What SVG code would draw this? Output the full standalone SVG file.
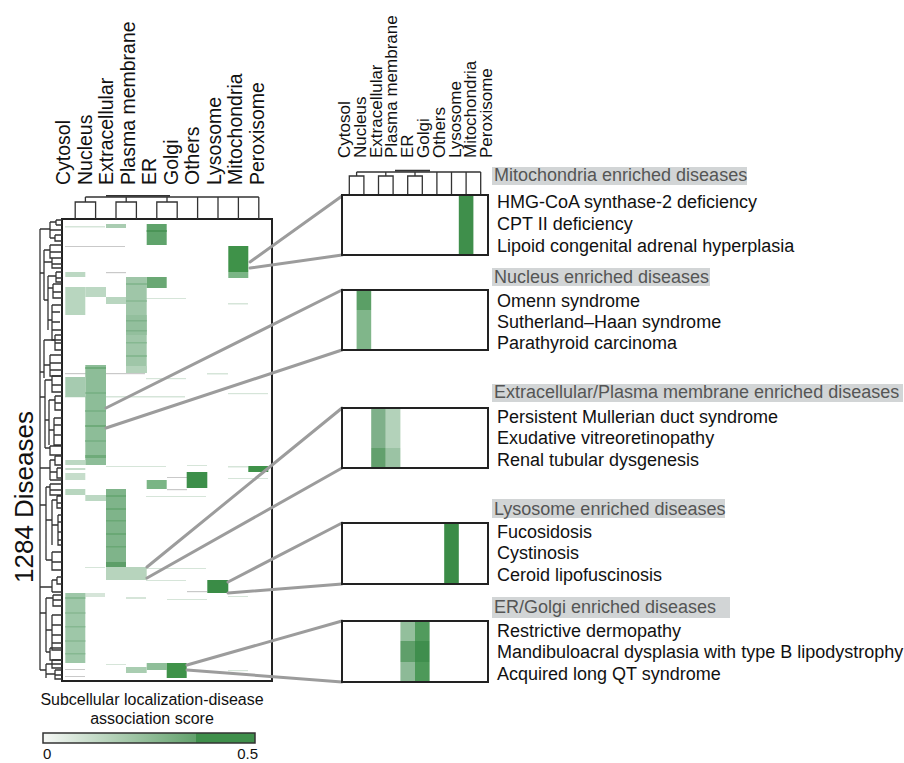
<svg xmlns="http://www.w3.org/2000/svg" width="904" height="763" viewBox="0 0 904 763">
<style>
text{font-family:"Liberation Sans",Arial,Helvetica,sans-serif;}
.cl{font-size:19.5px;fill:#111}
.cr{font-size:17px;fill:#111}
.hd{font-size:18px;fill:#555}
.dz{font-size:18px;fill:#111}
.hb{fill:#d2d5d6}
.box{fill:none;stroke:#222;stroke-width:2}
.den{fill:none;stroke:#333;stroke-width:1.3}
.con{stroke:#9c9c9c;stroke-width:3;fill:none;stroke-linecap:round}
.tl{fill:#d6e5d9}
.tg{fill:#c9c9c9}
</style>
<defs>
<linearGradient id="cbar" x1="0" y1="0" x2="1" y2="0">
<stop offset="0" stop-color="#f6f8f6"/>
<stop offset="0.72" stop-color="#63a26d"/>
<stop offset="0.72" stop-color="#3f8f4b"/>
<stop offset="1" stop-color="#3f8f4b"/>
</linearGradient>
</defs>
<rect width="904" height="763" fill="#fff"/>

<!-- Left heatmap -->
<g id="heatmap">
<rect x="62" y="219" width="210" height="462" fill="#fff"/>
<rect class="tl" x="65" y="226" width="40" height="1.5"/>
<rect class="tg" x="65" y="246" width="60" height="1"/>
<rect class="tg" x="106" y="272" width="20" height="1.2"/>
<rect class="tl" x="228" y="303" width="20" height="1.5"/>
<rect class="tl" x="146" y="298" width="40" height="1"/>
<rect class="tg" x="65" y="373" width="80" height="1.2"/>
<rect class="tl" x="207" y="373" width="21" height="1.5"/>
<rect class="tl" x="146" y="378" width="40" height="1.2"/>
<rect class="tl" x="65" y="396" width="120" height="1.5"/>
<rect class="tl" x="228" y="393" width="40" height="1.2"/>
<rect class="tl" x="106" y="466" width="60" height="1"/>
<rect class="tl" x="187" y="465" width="20" height="1"/>
<rect class="tl" x="228" y="466" width="20" height="1.5"/>
<rect class="tg" x="167" y="477" width="20" height="1"/>
<rect class="tg" x="167" y="489" width="20" height="1.2"/>
<rect class="tl" x="228" y="478" width="40" height="1"/>
<rect class="tl" x="146" y="496" width="60" height="1"/>
<rect class="tl" x="85" y="567" width="20" height="1"/>
<rect class="tl" x="146" y="568" width="60" height="1"/>
<rect class="tl" x="146" y="580" width="40" height="1"/>
<rect class="tg" x="187" y="591" width="20" height="1.2"/>
<rect class="tl" x="85" y="593" width="20" height="4"/>
<rect class="tl" x="126" y="597" width="20" height="2"/>
<rect class="tl" x="167" y="599" width="40" height="1"/>
<rect class="tl" x="228" y="596" width="20" height="1"/>
<rect class="tl" x="106" y="664" width="20" height="1"/>
<rect class="tl" x="228" y="670" width="20" height="1.2"/>
<rect class="tg" x="65" y="669" width="20" height="1"/>
<rect class="tg" x="65" y="676" width="20" height="1"/>
<rect x="106" y="224" width="20" height="4" fill="#a9ccb1"/>
<rect x="146.7" y="224" width="20" height="21" fill="#5fa36b"/>
<rect x="146.7" y="230" width="20" height="2" fill="#4b9457"/>
<rect x="228.3" y="246" width="20" height="26" fill="#3f9249"/>
<rect x="228.3" y="272" width="20" height="6" fill="#7ab585"/>
<rect x="65.3" y="272" width="20" height="5" fill="#bcd8c3"/>
<rect x="126" y="277" width="20.7" height="96" fill="#9fc6a8"/>
<rect x="126" y="283" width="20.7" height="2" fill="#86b891"/>
<rect x="126" y="300" width="20.7" height="2" fill="#8dbb97"/>
<rect x="126" y="315" width="20.7" height="20" fill="#93bf9d"/>
<rect x="126" y="320" width="20.7" height="1.5" fill="#7fb18a"/>
<rect x="126" y="330" width="20.7" height="1.5" fill="#7fb18a"/>
<rect x="126" y="342" width="20.7" height="1.5" fill="#86b891"/>
<rect x="126" y="355" width="20.7" height="2" fill="#86b891"/>
<rect x="126" y="366" width="20.7" height="7" fill="#b3d2ba"/>
<rect x="146.7" y="277" width="20" height="11" fill="#6aa874"/>
<rect x="65.3" y="287" width="20" height="28" fill="#b8d6bf"/>
<rect x="85.3" y="287" width="20.7" height="10" fill="#bcd8c3"/>
<rect x="106" y="297" width="20" height="7" fill="#b9d6c0"/>
<rect x="85.3" y="365" width="20.7" height="100" fill="#8dbd98"/>
<rect x="85.3" y="367" width="20.7" height="2" fill="#6fab7a"/>
<rect x="85.3" y="392" width="20.7" height="2" fill="#7bb287"/>
<rect x="85.3" y="410" width="20.7" height="2" fill="#7bb287"/>
<rect x="85.3" y="425" width="20.7" height="2" fill="#6fab7a"/>
<rect x="85.3" y="440" width="20.7" height="2" fill="#7bb287"/>
<rect x="85.3" y="455" width="20.7" height="3" fill="#6fab7a"/>
<rect x="65.3" y="377" width="20" height="20" fill="#a6cbb0"/>
<rect x="65.3" y="460" width="20" height="5" fill="#bcd8c3"/>
<rect x="248.3" y="466" width="20" height="6" fill="#3f9249"/>
<rect x="65.3" y="468" width="20" height="2" fill="#c6ddcb"/>
<rect x="65.3" y="473" width="20" height="7" fill="#c6ddcb"/>
<rect x="186.7" y="472" width="20.6" height="16" fill="#3d8f4a"/>
<rect x="146.7" y="480" width="20" height="9" fill="#7ab585"/>
<rect x="65.3" y="489" width="20" height="6" fill="#b8d6bf"/>
<rect x="85.3" y="495" width="20.7" height="6" fill="#bcd8c3"/>
<rect x="106" y="489" width="20" height="78" fill="#7fb48a"/>
<rect x="106" y="495" width="20" height="2" fill="#6aa875"/>
<rect x="106" y="508" width="20" height="2" fill="#6aa875"/>
<rect x="106" y="520" width="20" height="1.5" fill="#6aa875"/>
<rect x="106" y="533" width="20" height="2" fill="#6aa875"/>
<rect x="106" y="546" width="20" height="1.5" fill="#6aa875"/>
<rect x="106" y="562" width="20" height="5" fill="#5d9e68"/>
<rect x="106" y="567" width="40.7" height="13" fill="#b7d4bd"/>
<rect x="207.3" y="580" width="21" height="13" fill="#3a8c46"/>
<rect x="65.3" y="593" width="20" height="70" fill="#9ec7a8"/>
<rect x="65.3" y="597" width="20" height="2" fill="#86b891"/>
<rect x="65.3" y="612" width="20" height="2" fill="#8dbb97"/>
<rect x="65.3" y="626" width="20" height="1.5" fill="#86b891"/>
<rect x="65.3" y="640" width="20" height="2" fill="#8dbb97"/>
<rect x="65.3" y="653" width="20" height="1.5" fill="#86b891"/>
<rect x="146.7" y="663" width="20" height="7" fill="#8fbe99"/>
<rect x="166.7" y="663" width="20" height="15" fill="#3f9249"/>
<rect x="126" y="667" width="20.7" height="6" fill="#a9cdb1"/>
</g>
<rect id="heatbox" class="box" x="62" y="219" width="210" height="462"/>

<!-- Left column dendrogram -->
<g id="coldend-left" class="den">
<path d="M75.2,219V202H95.6V219M116,219V202H136.4V219M156.8,219V202H177.2V219M197.6,219V197M218,219V197M238.4,219V197M258.8,219V197M85.4,202V197M126.2,202V197M167,202V197M85.4,197H258.8"/>
<path d="M106,195.8H170" stroke-width="1.8"/>
</g>

<!-- Left column labels -->
<g id="collabels-left" class="cl">
<text transform="translate(70,185) rotate(-90)">Cytosol</text>
<text transform="translate(91.5,185) rotate(-90)">Nucleus</text>
<text transform="translate(113,185) rotate(-90)">Extracellular</text>
<text transform="translate(134.5,185) rotate(-90)">Plasma membrane</text>
<text transform="translate(156,185) rotate(-90)">ER</text>
<text transform="translate(177.5,185) rotate(-90)">Golgi</text>
<text transform="translate(199,185) rotate(-90)">Others</text>
<text transform="translate(220.5,185) rotate(-90)">Lysosome</text>
<text transform="translate(242,185) rotate(-90)">Mitochondria</text>
<text transform="translate(263.5,185) rotate(-90)">Peroxisome</text>
</g>

<!-- Row dendrogram -->
<g id="rowdend" class="den">
<path d="M40,229V670"/>
<path d="M40,229H50M50,222V238M50,222H56M56,220V225M56,220H62M56,225H62M50,230H62M50,238H55M55,235V241H62M55,235H62"/>
<path d="M40,273H44M44,250V300M44,250H50M50,245V258H62M50,245H62M50,252H62M44,262H52M52,258V268H62M52,258H62M52,264H62M44,300H48M48,276V330M48,276H56M56,272V282H62M56,272H62M56,278H62M48,288H53M53,284V298H62M53,284H62M53,292H62M48,320H52M52,305V340H62M52,305H62M52,312H60M52,322H60M52,330H62"/>
<path d="M40,372H44M44,340V378M44,340H55M55,335V350H62M55,335H62M55,343H62M44,365H50M50,355V376H62M50,355H62M50,363H62M50,370H62"/>
<path d="M40,397H45M45,380V448M45,380H52M52,376V392H62M52,376H62M52,385H62M45,420H49M49,400V445M49,400H55M55,396V410H62M55,396H62M55,403H62M49,430H54M54,418V445H62M54,418H62M54,425H62M54,435H62M45,448H50M50,446V455H62M50,446H62"/>
<path d="M40,468H50M50,460V480M50,460H55M55,456V465H62M55,456H62M50,472H57M57,468V478H62M57,468H62M50,480H62"/>
<path d="M40,505H46M46,487V560M46,487H50M50,484V495H62M50,484H62M50,490H62M46,520H52M52,500V545M52,500H57M57,496V508H62M57,496H62M57,503H62M52,525H58M58,515V545H62M58,515H62M58,522H62M58,532H62M58,540H62M46,560H52M52,552V570H62M52,552H62M52,562H62"/>
<path d="M40,587H52M52,580V592M52,580H57M57,577V584H62M57,577H62M52,592H62"/>
<path d="M40,613H46M46,598V652M46,598H53M53,595V606H62M53,595H62M53,600H62M46,630H52M52,615V650H62M52,615H62M52,625H62M52,635H62M52,643H62M46,652H50M50,648V660H62M50,648H62"/>
<path d="M40,670H46M46,664V678M46,664H52M52,660V668H62M52,660H62M52,664H62M46,674H55M55,670V679H62M55,670H62M55,675H62"/>
</g>

<text id="ylabel" transform="translate(33,497) rotate(-90)" font-size="26" fill="#111" text-anchor="middle">1284 Diseases</text>

<!-- Colorbar -->
<g id="colorbar">
<text x="152" y="705" font-size="16" fill="#111" text-anchor="middle">Subcellular localization-disease</text>
<text x="152" y="724" font-size="16" fill="#111" text-anchor="middle">association score</text>
<rect x="43" y="733" width="212" height="10" fill="url(#cbar)" stroke="#333" stroke-width="1.5"/>
<text x="43" y="759" font-size="15" fill="#111">0</text>
<text x="258" y="759" font-size="15" fill="#111" text-anchor="end">0.5</text>
</g>

<!-- Connectors -->
<g id="connectors" class="con">
<line x1="250" y1="262" x2="342" y2="196"/>
<line x1="250" y1="268" x2="342" y2="255"/>
<line x1="106" y1="408" x2="342" y2="290"/>
<line x1="106" y1="428" x2="342" y2="350"/>
<line x1="147" y1="567" x2="342" y2="408"/>
<line x1="147" y1="578" x2="342" y2="468"/>
<line x1="228" y1="582" x2="342" y2="523"/>
<line x1="228" y1="593" x2="342" y2="584"/>
<line x1="187" y1="665" x2="342" y2="621"/>
<line x1="187" y1="670" x2="342" y2="682"/>
</g>

<!-- Right column labels -->
<g id="collabels-right" class="cr">
<text transform="translate(350,158) rotate(-90)">Cytosol</text>
<text transform="translate(365.8,158) rotate(-90)">Nucleus</text>
<text transform="translate(381.6,158) rotate(-90)">Extracellular</text>
<text transform="translate(397.4,158) rotate(-90)">Plasma membrane</text>
<text transform="translate(413.2,158) rotate(-90)">ER</text>
<text transform="translate(429,158) rotate(-90)">Golgi</text>
<text transform="translate(444.8,158) rotate(-90)">Others</text>
<text transform="translate(460.6,158) rotate(-90)">Lysosome</text>
<text transform="translate(476.4,158) rotate(-90)">Mitochondria</text>
<text transform="translate(492.2,158) rotate(-90)">Peroxisome</text>
</g>

<!-- Right column dendrogram -->
<g id="coldend-right" class="den">
<path d="M349.3,195V176H363.9V195M378.5,195V176H393.1V195M407.7,195V176H422.3V195M436.9,195V172M451.5,195V172M466.1,195V172M480.7,195V172M356.6,176V172M385.8,176V172M415,176V172M356.6,172H480.7"/>
<path d="M395,170.6H430" stroke-width="1.8"/>
</g>

<!-- Panel 1 -->
<g id="panel-mito">
<rect x="492" y="167" width="255" height="18" class="hb"/>
<text class="hd" x="494" y="181">Mitochondria enriched diseases</text>
<rect x="342" y="195" width="146" height="60" fill="#fff"/>
<rect x="458.8" y="195" width="14.6" height="60" fill="#3f8f4b"/>
<rect class="box" x="342" y="195" width="146" height="60"/>
<text class="dz" x="497" y="208">HMG-CoA synthase-2 deficiency</text>
<text class="dz" x="497" y="230">CPT II deficiency</text>
<text class="dz" x="497" y="252">Lipoid congenital adrenal hyperplasia</text>
</g>

<!-- Panel 2 -->
<g id="panel-nucleus">
<rect x="492" y="268" width="218" height="18" class="hb"/>
<text class="hd" x="494" y="283">Nucleus enriched diseases</text>
<rect x="342" y="290" width="146" height="60" fill="#fff"/>
<rect x="356.6" y="290" width="14.6" height="20" fill="#5b9f66"/>
<rect x="356.6" y="310" width="14.6" height="40" fill="#80b68a"/>
<rect class="box" x="342" y="290" width="146" height="60"/>
<text class="dz" x="497" y="307">Omenn syndrome</text>
<text class="dz" x="497" y="328">Sutherland–Haan syndrome</text>
<text class="dz" x="497" y="349">Parathyroid carcinoma</text>
</g>

<!-- Panel 3 -->
<g id="panel-extracellular">
<rect x="492" y="384" width="411" height="18" class="hb"/>
<text class="hd" x="494" y="398">Extracellular/Plasma membrane enriched diseases</text>
<rect x="342" y="408" width="146" height="60" fill="#fff"/>
<rect x="371.2" y="408" width="14.6" height="40" fill="#7fb08a"/>
<rect x="371.2" y="448" width="14.6" height="20" fill="#62a06d"/>
<rect x="385.8" y="408" width="14.6" height="40" fill="#b3d2ba"/>
<rect x="385.8" y="448" width="14.6" height="20" fill="#9bc3a4"/>
<rect class="box" x="342" y="408" width="146" height="60"/>
<text class="dz" x="497" y="423">Persistent Mullerian duct syndrome</text>
<text class="dz" x="497" y="444">Exudative vitreoretinopathy</text>
<text class="dz" x="497" y="466">Renal tubular dysgenesis</text>
</g>

<!-- Panel 4 -->
<g id="panel-lysosome">
<rect x="492" y="499" width="233" height="19" class="hb"/>
<text class="hd" x="494" y="515">Lysosome enriched diseases</text>
<rect x="342" y="523" width="146" height="61" fill="#fff"/>
<rect x="444.2" y="523" width="14.6" height="61" fill="#3b8c47"/>
<rect class="box" x="342" y="523" width="146" height="61"/>
<text class="dz" x="497" y="538">Fucosidosis</text>
<text class="dz" x="497" y="559">Cystinosis</text>
<text class="dz" x="497" y="581">Ceroid lipofuscinosis</text>
</g>

<!-- Panel 5 -->
<g id="panel-ergolgi">
<rect x="492" y="597" width="238" height="21" class="hb"/>
<text class="hd" x="494" y="613">ER/Golgi enriched diseases</text>
<rect x="342" y="621" width="146" height="61" fill="#fff"/>
<rect x="400.4" y="621" width="14.6" height="20" fill="#93bf9c"/>
<rect x="400.4" y="641" width="14.6" height="21" fill="#5f9f6a"/>
<rect x="400.4" y="662" width="14.6" height="20" fill="#8dba97"/>
<rect x="415" y="621" width="14.6" height="20" fill="#519b5d"/>
<rect x="415" y="641" width="14.6" height="21" fill="#3f8e4d"/>
<rect x="415" y="662" width="14.6" height="20" fill="#4d9959"/>
<rect class="box" x="342" y="621" width="146" height="61"/>
<text class="dz" x="497" y="637">Restrictive dermopathy</text>
<text class="dz" x="497" y="658">Mandibuloacral dysplasia with type B lipodystrophy</text>
<text class="dz" x="497" y="680">Acquired long QT syndrome</text>
</g>
</svg>
